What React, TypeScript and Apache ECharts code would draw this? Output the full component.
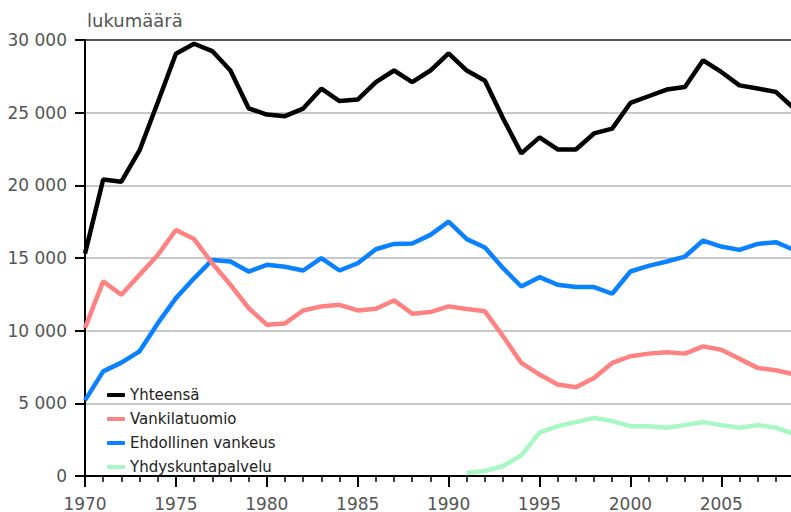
import React, { useEffect, useRef } from "react";
import * as echarts from "echarts";

const years: number[] = [];
for (let y = 1970; y <= 2009; y++) years.push(y);

const yhteensa = [
  15300, 20400, 20250, 22400, 25700, 29050, 29740, 29240, 27900, 25300,
  24870, 24760, 25280, 26650, 25800, 25900, 27100, 27900, 27100, 27900,
  29080, 27900, 27200, 24600, 22200, 23300, 22470, 22470, 23570, 23900,
  25670, 26130, 26590, 26770, 28600, 27800, 26880, 26660, 26430, 25300,
];

const vankilatuomio = [
  10190, 13390, 12470, 13840, 15200, 16930, 16300, 14640, 13160, 11560,
  10410, 10500, 11390, 11670, 11780, 11390, 11510, 12080, 11170, 11280,
  11670, 11490, 11330, 9610, 7780, 6980, 6290, 6110, 6750, 7780,
  8240, 8420, 8510, 8420, 8920, 8690, 8060, 7440, 7280, 7000,
];

const ehdollinen = [
  5200, 7200, 7800, 8580, 10500, 12240, 13600, 14870, 14760, 14070,
  14530, 14400, 14140, 14990, 14140, 14640, 15600, 15970, 16000, 16590,
  17500, 16300, 15720, 14300, 13040, 13680, 13160, 13000, 13000, 12540,
  14070, 14460, 14760, 15100, 16200, 15790, 15560, 15970, 16090, 15560,
];

const yhdyskuntapalvelu: (number | null)[] = [
  null, null, null, null, null, null, null, null, null, null,
  null, null, null, null, null, null, null, null, null, null,
  null, 200, 340, 690, 1420, 2980, 3430, 3710, 4000, 3780,
  3430, 3430, 3320, 3500, 3710, 3500, 3320, 3500, 3320, 2900,
];

const seriesNames = ["Yhteensä", "Vankilatuomio", "Ehdollinen vankeus", "Yhdyskuntapalvelu"];
const seriesColors = ["#000000", "#ff8282", "#0a82ff", "#a8f7c4"];
const seriesData = [yhteensa, vankilatuomio, ehdollinen, yhdyskuntapalvelu];

const FONT = "DejaVu Sans";

export default function App() {
  const ref = useRef<HTMLDivElement>(null);
  useEffect(() => {
    if (!ref.current) return;
    const chart = echarts.init(ref.current, null, { renderer: "svg" });
    const pair = (arr: (number | null)[]) => years.map((y, i) => [y, arr[i]]);
    chart.setOption({
      animation: false,
      backgroundColor: "#ffffff",
      grid: { left: 85, top: 40, right: 6, bottom: 36, containLabel: false, outerBoundsMode: "none" },
      graphic: [
        {
          type: "text",
          left: 87,
          top: 11,
          style: { text: "lukumäärä", fill: "#555555", font: `18px '${FONT}'` },
        },
      ],
      legend: {
        orient: "vertical",
        left: 102,
        top: 381,
        itemWidth: 18,
        itemHeight: 4,
        itemGap: 6,
        icon: "roundRect",
        textStyle: { fontFamily: FONT, fontSize: 15, color: "#222", lineHeight: 18 },
        data: seriesNames,
      },
      xAxis: [
        {
          type: "value",
          min: 1970,
          max: 2009,
          interval: 5,
          axisLine: { show: true, onZero: false, lineStyle: { color: "#000", width: 2 } },
          axisTick: { show: true, length: 11, lineStyle: { color: "#000", width: 2 } },
          axisLabel: {
            margin: 19,
            color: "#555",
            fontFamily: FONT,
            fontSize: 17,
            showMaxLabel: false,
            formatter: (v: number) => (v % 5 === 0 ? String(v) : ""),
          },
          splitLine: { show: false },
        },
        {
          type: "value",
          min: 1970,
          max: 2009,
          interval: 1,
          position: "bottom",
          axisLine: { show: false },
          axisTick: { show: true, length: 6, lineStyle: { color: "#000", width: 1.5 } },
          axisLabel: { show: false },
          splitLine: { show: false },
        },
      ],
      yAxis: {
        type: "value",
        min: 0,
        max: 30000,
        interval: 5000,
        axisLine: { show: true, lineStyle: { color: "#000", width: 2 } },
        axisTick: { show: true, length: 10, lineStyle: { color: "#000", width: 2 } },
        axisLabel: {
          margin: 18,
          color: "#555",
          fontFamily: FONT,
          fontSize: 17,
          formatter: (v: number) => String(v).replace(/\B(?=(\d{3})+(?!\d))/g, " "),
        },
        splitLine: {
          show: true,
          lineStyle: {
            color: ["#c8c8c8", "#c8c8c8", "#c8c8c8", "#c8c8c8", "#c8c8c8", "#c8c8c8", "#555555"],
            width: 2,
          },
        },
      },
      series: seriesNames.map((name, i) => ({
        name,
        type: "line",
        xAxisIndex: 0,
        data: pair(seriesData[i]),
        showSymbol: false,
        symbol: "none",
        connectNulls: false,
        clip: true,
        lineStyle: { color: seriesColors[i], width: 4.5 },
        itemStyle: { color: seriesColors[i] },
        z: 10 - i,
      })),
    });
    return () => chart.dispose();
  }, []);
  return (
    <div style={{ position: "fixed", left: 0, top: 0, width: 791, height: 512, overflow: "hidden", background: "#fff" }}>
      <div ref={ref} style={{ width: 800, height: 512 }} />
    </div>
  );
}
